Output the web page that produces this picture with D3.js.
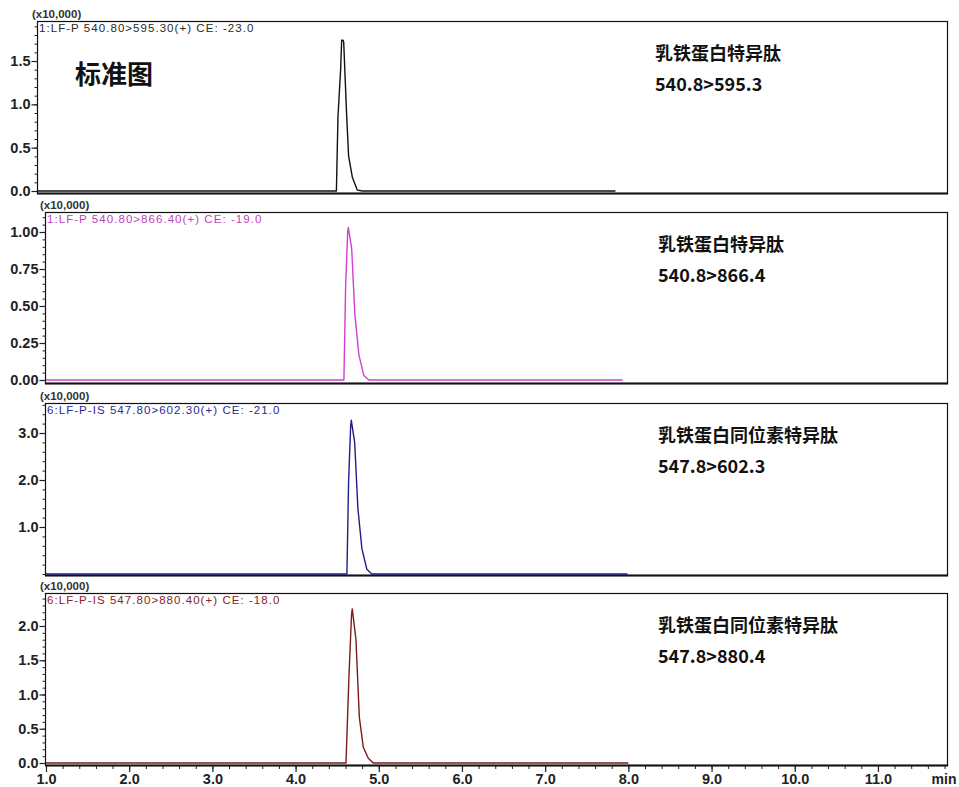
<!DOCTYPE html>
<html><head><meta charset="utf-8">
<script src="https://cdn.jsdelivr.net/npm/d3@7/dist/d3.min.js"></script>
<style>
html,body{margin:0;padding:0;background:#fff;}
svg{display:block;}
</style></head>
<body>
<svg id="chart" width="959" height="787"></svg>
<script>
// ---------- DATA ----------
const panelHeaders = [
  "1:LF-P 540.80>595.30(+) CE: -23.0",
  "1:LF-P 540.80>866.40(+) CE: -19.0",
  "6:LF-P-IS 547.80>602.30(+) CE: -21.0",
  "6:LF-P-IS 547.80>880.40(+) CE: -18.0"
];
const panelNames = ["乳铁蛋白特异肽", "乳铁蛋白特异肽", "乳铁蛋白同位素特异肽", "乳铁蛋白同位素特异肽"];
const panelTransitions = ["540.8>595.3", "540.8>866.4", "547.8>602.3", "547.8>880.4"];

// retention time (min) and intensity (x10,000) for each trace
const time1 = [1.0, 4.555, 4.574, 4.606, 4.618, 4.635, 4.642, 4.678, 4.701, 4.745, 4.805, 4.865, 7.88];
const int1  = [0, 0, 0.86, 1.41, 1.74, 1.74, 1.72, 0.86, 0.40, 0.16, 0.01, 0, 0];

const time2 = [1.0, 4.581, 4.601, 4.626, 4.634, 4.674, 4.713, 4.761, 4.821, 4.881, 7.93];
const int2  = [0, 0, 0.62, 1.00, 1.03, 0.89, 0.44, 0.17, 0.03, 0, 0];

const time3 = [1.0, 4.617, 4.637, 4.662, 4.670, 4.710, 4.749, 4.797, 4.857, 4.917, 7.99];
const int3  = [0, 0, 1.95, 3.15, 3.27, 2.80, 1.40, 0.54, 0.10, 0, 0];

const time4 = [1.0, 4.606, 4.642, 4.672, 4.681, 4.726, 4.766, 4.814, 4.874, 4.934, 8.0];
const int4  = [0, 0, 1.28, 2.15, 2.25, 1.80, 0.67, 0.23, 0.07, 0, 0];

const yTicks1 = [0.0, 0.5, 1.0, 1.5];
const yTicks2 = [0.00, 0.25, 0.50, 0.75, 1.00];
const yTicks3 = [1.0, 2.0, 3.0];
const yTicks4 = [0.0, 0.5, 1.0, 1.5, 2.0];
const yTickFormats = [".1f", ".2f", ".1f", ".1f"];
const yMinorSteps = [0.1, 0.05, 0.2, 0.1];

const xTicks = [1, 2, 3, 4, 5, 6, 7, 8, 9, 10, 11];
const xDomain = [1.0, 11.83];
const xUnit = "min";
const scaleLabel = "(x10,000)";
const titleText = "标准图";

// ---------- LAYOUT / STYLE ----------
const panels = [
  {t: time1, v: int1, ticks: yTicks1, left: 37, right: 947, top: 21, bottom: 193, y0: 191, yRef: 1.5, yRefPx: 61,
   color: "#111111", headColor: "#2a2a2a"},
  {t: time2, v: int2, ticks: yTicks2, left: 45, right: 947, top: 212, bottom: 383, y0: 380, yRef: 1.0, yRefPx: 232,
   color: "#d040d0", headColor: "#c040c0"},
  {t: time3, v: int3, ticks: yTicks3, left: 45, right: 947, top: 403, bottom: 575, y0: 574, yRef: 3.0, yRefPx: 433,
   color: "#1e1e8a", headColor: "#2a2a90"},
  {t: time4, v: int4, ticks: yTicks4, left: 45, right: 947, top: 593, bottom: 765, y0: 763, yRef: 2.0, yRefPx: 626,
   color: "#7a1c1c", headColor: "#8a2424"}
];

const svg = d3.select("#chart");
const tickFont = "'Liberation Sans', Arial, sans-serif";
const cjkFont = "'Noto Sans CJK SC', sans-serif";

panels.forEach((p, i) => {
  const x = d3.scaleLinear().domain(xDomain).range([p.left + 1, p.right]);
  const y = d3.scaleLinear().domain([0, p.yRef]).range([p.y0, p.yRefPx]);
  const g = svg.append("g");

  // frame
  g.append("rect").attr("x", p.left + 0.5).attr("y", p.top + 0.5)
    .attr("width", p.right - p.left).attr("height", p.bottom - p.top)
    .attr("fill", "none").attr("stroke", "#111").attr("stroke-width", 1.2);
  g.append("line").attr("x1", p.left).attr("x2", p.right + 1)
    .attr("y1", p.bottom + 0.5).attr("y2", p.bottom + 0.5)
    .attr("stroke", "#111").attr("stroke-width", 2);

  // y axis
  const yMax = y.invert(p.top);
  const minor = d3.range(0, yMax, yMinorSteps[i]).filter(v => y(v) <= p.bottom + 0.5);
  const yMinorAxis = d3.axisLeft(y).tickValues(minor).tickSize(3).tickFormat("");
  g.append("g").attr("transform", `translate(${p.left + 0.5},0)`).call(yMinorAxis)
    .call(s => s.select(".domain").remove())
    .selectAll("line").attr("stroke", "#222");
  const yAxis = d3.axisLeft(y).tickValues(p.ticks).tickSize(6).tickPadding(1)
    .tickFormat(d3.format(yTickFormats[i]));
  const ya = g.append("g").attr("transform", `translate(${p.left + 0.5},0)`).call(yAxis);
  ya.select(".domain").remove();
  ya.selectAll("line").attr("stroke", "#222").attr("stroke-width", 1.2);
  ya.selectAll("text").attr("font-family", tickFont).attr("font-size", 14.5)
    .attr("font-weight", "bold").attr("fill", "#222");

  // trace
  const line = d3.line().x((d, k) => x(p.t[k])).y((d, k) => y(p.v[k])).curve(d3.curveLinear);
  g.append("path").datum(p.v).attr("d", line).attr("fill", "none")
    .attr("stroke", p.color).attr("stroke-width", 1.4).attr("stroke-linejoin", "round");

  // scale label & header
  g.append("text").attr("x", p.left - 5).attr("y", p.top - 3)
    .attr("font-family", tickFont).attr("font-size", 11.5).attr("font-weight", "bold")
    .attr("fill", "#333").text(scaleLabel);
  g.append("text").attr("x", p.left + 2).attr("y", p.top + 11)
    .attr("font-family", tickFont).attr("font-size", 11.5).attr("letter-spacing", 1.05)
    .attr("fill", p.headColor).text(panelHeaders[i]);

  // right annotations
  const ax = i === 0 ? 655 : 658;
  g.append("text").attr("x", ax).attr("y", p.top + 39)
    .attr("font-family", cjkFont).attr("font-size", 18).attr("font-weight", "bold")
    .attr("fill", "#111").text(panelNames[i]);
  g.append("text").attr("x", ax).attr("y", p.top + 70)
    .attr("font-family", cjkFont).attr("font-size", 18).attr("font-weight", "bold")
    .attr("fill", "#111").text(panelTransitions[i]);

  // x axis on bottom panel
  if (i === panels.length - 1) {
    const xMinor = d3.range(1, 11.81, 0.2);
    const xm = g.append("g").attr("transform", `translate(0,${p.bottom + 1})`)
      .call(d3.axisBottom(x).tickValues(xMinor).tickSize(3).tickFormat(""));
    xm.select(".domain").remove();
    xm.selectAll("line").attr("stroke", "#222");
    const xa = g.append("g").attr("transform", `translate(0,${p.bottom + 1})`)
      .call(d3.axisBottom(x).tickValues(xTicks).tickSize(6).tickPadding(2).tickFormat(d3.format(".1f")));
    xa.select(".domain").remove();
    xa.selectAll("line").attr("stroke", "#222").attr("stroke-width", 1.2);
    xa.selectAll("text").attr("font-family", tickFont).attr("font-size", 14.5)
      .attr("font-weight", "bold").attr("fill", "#222");
    g.append("text").attr("x", 944).attr("y", p.bottom + 19)
      .attr("text-anchor", "middle")
      .attr("font-family", tickFont).attr("font-size", 14).attr("font-weight", "bold")
      .attr("fill", "#222").text(xUnit);
  }
});

svg.append("text").attr("x", 75).attr("y", 84)
  .attr("font-family", cjkFont).attr("font-size", 26).attr("font-weight", "bold")
  .attr("fill", "#111").text(titleText);
</script>
</body></html>
